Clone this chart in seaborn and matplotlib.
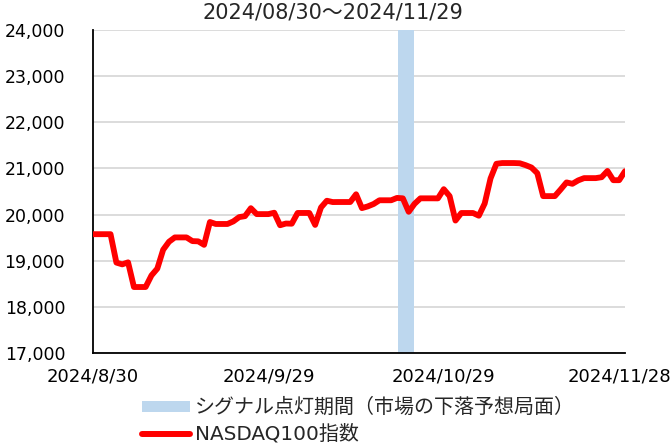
import pandas as pd
import seaborn as sns
import matplotlib.pyplot as plt
from matplotlib.patches import Patch
from matplotlib.lines import Line2D
from matplotlib.ticker import FuncFormatter

sns.set_style("white")
plt.rcParams['font.family'] = ['DejaVu Sans', 'Noto Sans CJK JP']

# NASDAQ100 daily closes (weekends / holidays carry the previous close)
start_date = '2024-08-30'
nasdaq100 = [
    19575, 19575, 19575, 19575, 18959, 18921, 18965, 18430, 18430, 18430,
    18681, 18829, 19238, 19411, 19505, 19505, 19505, 19425, 19420, 19344,
    19839, 19796, 19796, 19796, 19852, 19945, 19966, 20138, 20010, 20010,
    20010, 20040, 19769, 19806, 19802, 20035, 20035, 20035, 19776, 20154,
    20300, 20271, 20272, 20272, 20272, 20440, 20140, 20177, 20229, 20310,
    20310, 20310, 20361, 20352, 20060, 20233, 20352, 20352, 20352, 20351,
    20550, 20400, 19870, 20034, 20034, 20034, 19975, 20240, 20783, 21101,
    21117, 21117, 21117, 21112, 21071, 21020, 20897, 20400, 20400, 20400,
    20545, 20697, 20667, 20741, 20790, 20790, 20790, 20810, 20945, 20745,
    20745, 20940,
]
dates = pd.date_range(start_date, periods=len(nasdaq100), freq='D')
df = pd.DataFrame({'date': dates, 'nasdaq100': nasdaq100})

# signal period (market decline expected)
signal_start = pd.Timestamp('2024-10-21 05:00')
signal_end = pd.Timestamp('2024-10-23 22:00')

title_text = '2024/08/30～2024/11/29'
signal_label = 'シグナル点灯期間（市場の下落予想局面）'
line_label = 'NASDAQ100指数'
y_ticks = [17000, 18000, 19000, 20000, 21000, 22000, 23000, 24000]
x_ticks = pd.to_datetime(['2024-08-30', '2024-09-29', '2024-10-29', '2024-11-28'])

band_color = '#BDD7EE'
line_color = '#FF0000'

fig = plt.figure(figsize=(6.7, 4.48), dpi=100)
ax = fig.add_axes([93 / 670, 1 - 353 / 448, (625 - 93) / 670, (353 - 30) / 448])

ax.axvspan(signal_start, signal_end, color=band_color, lw=0, zorder=1)
sns.lineplot(data=df, x='date', y='nasdaq100', color=line_color, linewidth=4.2,
             ax=ax, zorder=3, solid_joinstyle='round', solid_capstyle='round')

ax.set_xlim(dates[0], dates[-1])
ax.set_ylim(y_ticks[0], y_ticks[-1])
ax.set_yticks(y_ticks)
ax.yaxis.set_major_formatter(FuncFormatter(lambda v, p: f"{int(v):,}"))
ax.set_xticks(x_ticks)
ax.set_xticklabels([f"{d.year}/{d.month}/{d.day}" for d in x_ticks])

ax.set_axisbelow(True)
ax.yaxis.grid(True, color='#D9D9D9', linewidth=1.3, zorder=0)
ax.xaxis.grid(False)
for side in ['top', 'right']:
    ax.spines[side].set_visible(False)
for side in ['left', 'bottom']:
    ax.spines[side].set_color('black')
    ax.spines[side].set_linewidth(1.3)

ax.tick_params(axis='both', direction='in', length=5, width=1, color='black',
               labelcolor='black')
ax.tick_params(axis='x', pad=10.5, labelsize=13)
ax.tick_params(axis='y', pad=20, labelsize=12.5)
ax.set_xlabel('')
ax.set_ylabel('')

fig.text(333 / 670, 1 - 13 / 448, title_text, ha='center', va='center', fontsize=15)

handles = [Patch(facecolor=band_color, edgecolor='none'),
           Line2D([0], [0], color=line_color, linewidth=4.3, solid_capstyle='round')]
fig.legend(handles, [signal_label, line_label], loc='upper left',
           bbox_to_anchor=(142 / 670, 1 - 398 / 448), frameon=False,
           fontsize=14.4, handlelength=2.4, handleheight=0.45,
           handletextpad=0.25, labelspacing=0.36, borderaxespad=0, borderpad=0)

plt.savefig('out.png', dpi=100)
